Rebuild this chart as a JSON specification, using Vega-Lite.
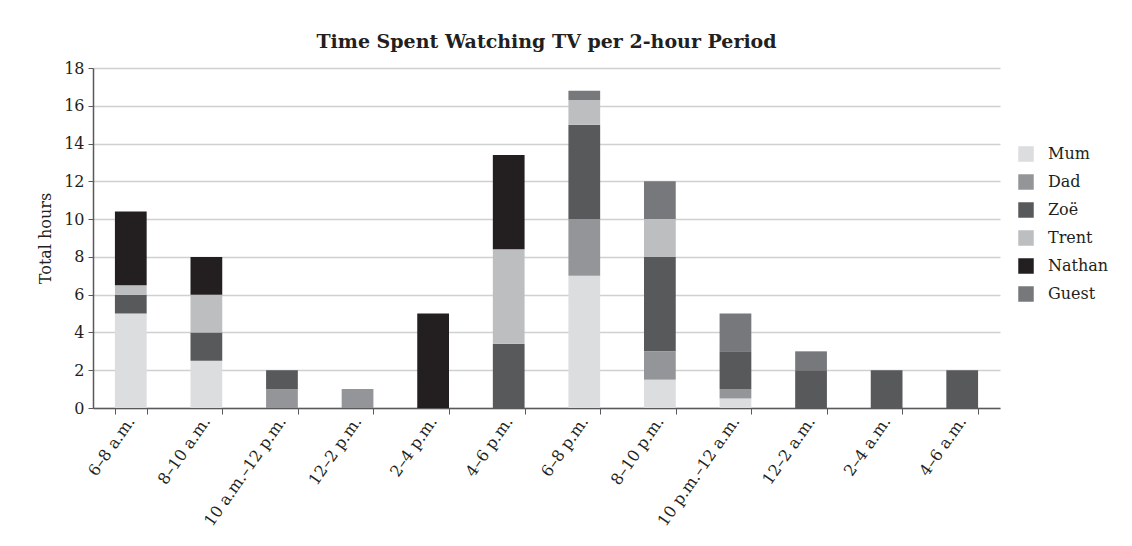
{
  "$schema": "https://vega.github.io/schema/vega-lite/v6.json",
  "width": 907,
  "height": 340,
  "autosize": {"type": "none"},
  "padding": {"left": 93, "top": 68, "right": 132, "bottom": 138},
  "background": "white",
  "title": {"text": "Time Spent Watching TV per 2-hour Period", "font": "DejaVu Serif", "fontSize": 19, "fontWeight": "bold", "color": "#231f20", "anchor": "middle", "offset": 8},
  "data": {"values": [
    {"period": "6–8 a.m.", "person": "Mum", "hours": 5},
    {"period": "6–8 a.m.", "person": "Zoë", "hours": 1},
    {"period": "6–8 a.m.", "person": "Trent", "hours": 0.5},
    {"period": "6–8 a.m.", "person": "Nathan", "hours": 3.9},
    {"period": "8–10 a.m.", "person": "Mum", "hours": 2.5},
    {"period": "8–10 a.m.", "person": "Zoë", "hours": 1.5},
    {"period": "8–10 a.m.", "person": "Trent", "hours": 2},
    {"period": "8–10 a.m.", "person": "Nathan", "hours": 2},
    {"period": "10 a.m.–12 p.m.", "person": "Dad", "hours": 1},
    {"period": "10 a.m.–12 p.m.", "person": "Zoë", "hours": 1},
    {"period": "12–2 p.m.", "person": "Dad", "hours": 1},
    {"period": "2–4 p.m.", "person": "Nathan", "hours": 5},
    {"period": "4–6 p.m.", "person": "Zoë", "hours": 3.4},
    {"period": "4–6 p.m.", "person": "Trent", "hours": 5},
    {"period": "4–6 p.m.", "person": "Nathan", "hours": 5},
    {"period": "6–8 p.m.", "person": "Mum", "hours": 7},
    {"period": "6–8 p.m.", "person": "Dad", "hours": 3},
    {"period": "6–8 p.m.", "person": "Zoë", "hours": 5},
    {"period": "6–8 p.m.", "person": "Trent", "hours": 1.3},
    {"period": "6–8 p.m.", "person": "Guest", "hours": 0.5},
    {"period": "8–10 p.m.", "person": "Mum", "hours": 1.5},
    {"period": "8–10 p.m.", "person": "Dad", "hours": 1.5},
    {"period": "8–10 p.m.", "person": "Zoë", "hours": 5},
    {"period": "8–10 p.m.", "person": "Trent", "hours": 2},
    {"period": "8–10 p.m.", "person": "Guest", "hours": 2},
    {"period": "10 p.m.–12 a.m.", "person": "Mum", "hours": 0.5},
    {"period": "10 p.m.–12 a.m.", "person": "Dad", "hours": 0.5},
    {"period": "10 p.m.–12 a.m.", "person": "Zoë", "hours": 2},
    {"period": "10 p.m.–12 a.m.", "person": "Guest", "hours": 2},
    {"period": "12–2 a.m.", "person": "Zoë", "hours": 2},
    {"period": "12–2 a.m.", "person": "Guest", "hours": 1},
    {"period": "2–4 a.m.", "person": "Zoë", "hours": 2},
    {"period": "4–6 a.m.", "person": "Zoë", "hours": 2}
  ]},
  "transform": [
    {"calculate": "indexof(['Mum','Dad','Zoë','Trent','Nathan','Guest'], datum.person)", "as": "ord"}
  ],
  "mark": {"type": "bar"},
  "encoding": {
    "x": {
      "field": "period", "type": "nominal",
      "sort": ["6–8 a.m.", "8–10 a.m.", "10 a.m.–12 p.m.", "12–2 p.m.", "2–4 p.m.", "4–6 p.m.", "6–8 p.m.", "8–10 p.m.", "10 p.m.–12 a.m.", "12–2 a.m.", "2–4 a.m.", "4–6 a.m."],
      "scale": {"paddingInner": 0.58, "paddingOuter": 0.29},
      "axis": {"title": null, "labelAngle": -55, "labelAlign": "right", "labelBaseline": "middle", "labelFont": "DejaVu Serif", "labelFontSize": 16, "labelColor": "#231f20", "labelPadding": 4, "labelDx": 5, "tickBand": "extent", "tickColor": "#58595b", "tickSize": 6, "domainColor": "#58595b", "domainWidth": 1.5, "grid": false}
    },
    "y": {
      "field": "hours", "type": "quantitative", "stack": "zero",
      "scale": {"domain": [0, 18]},
      "axis": {"title": "Total hours", "titleFont": "DejaVu Serif", "titleFontSize": 16, "titleFontWeight": "normal", "titleColor": "#231f20", "titlePadding": 10, "values": [0, 2, 4, 6, 8, 10, 12, 14, 16, 18], "labelFont": "DejaVu Serif", "labelFontSize": 16, "labelColor": "#231f20", "labelPadding": 4, "tickColor": "#58595b", "tickSize": 5, "domainColor": "#58595b", "domainWidth": 1.5, "grid": true, "gridColor": "#cfd0d2", "gridWidth": 1.5}
    },
    "color": {
      "field": "person", "type": "nominal",
      "scale": {"domain": ["Mum", "Dad", "Zoë", "Trent", "Nathan", "Guest"], "range": ["#dcdddf", "#939598", "#58595b", "#bcbec0", "#231f20", "#77787b"]},
      "legend": {"title": null, "orient": "none", "legendX": 925, "legendY": 78, "symbolType": "square", "symbolSize": 240, "symbolStrokeWidth": 0, "labelFont": "DejaVu Serif", "labelFontSize": 16, "labelColor": "#231f20", "rowPadding": 12, "labelOffset": 14}
    },
    "order": {"field": "ord", "type": "quantitative"}
  },
  "config": {"view": {"stroke": null}}
}
